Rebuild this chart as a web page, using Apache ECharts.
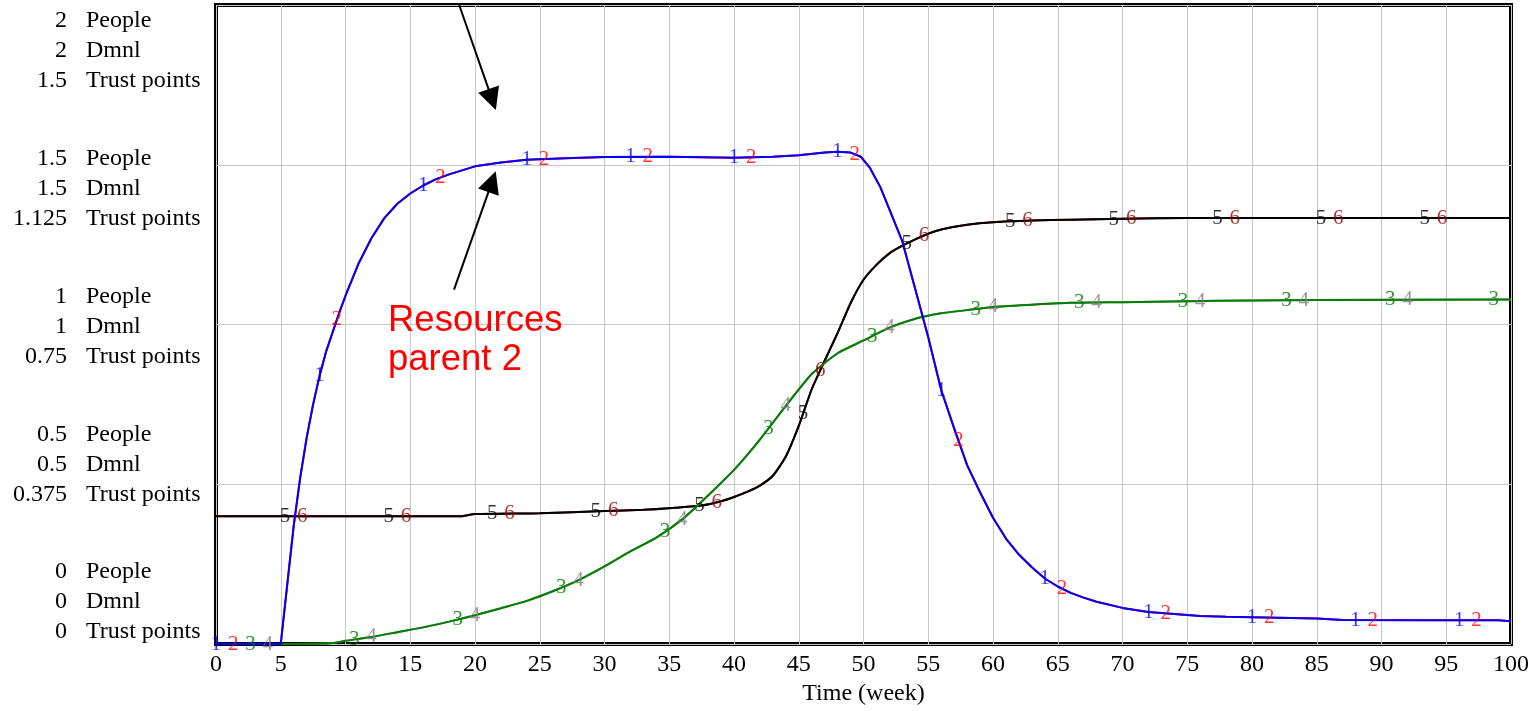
<!DOCTYPE html>
<html><head><meta charset="utf-8">
<script src="https://cdn.jsdelivr.net/npm/echarts@6/dist/echarts.min.js"></script>
<style>html,body{margin:0;padding:0;background:#fff}#c{width:1532px;height:711px}</style>
</head><body><div id="c"></div>
<script>
// ---- tick labels ----
const peopleTicks = ['0', '0.5', '1', '1.5', '2'];
const dmnlTicks = ['0', '0.5', '1', '1.5', '2'];
const trustTicks = ['0', '0.375', '0.75', '1.125', '1.5'];
const unitNames = ['People', 'Dmnl', 'Trust points'];

// ---- series values: [week, value] ----
// series 1 & 2 (People)
const resourcesParent1 = [[0,0],[5,0],[5.5,0.185],[6,0.37],[6.5,0.52],[7,0.645],[7.5,0.75],[8,0.84],[8.5,0.915],[9,0.975],[9.5,1.035],[10,1.09],[11,1.19],[12,1.27],[13,1.333],[14,1.378],[15,1.41],[16,1.435],[17,1.455],[18,1.47],[20,1.495],[22,1.507],[24,1.516],[27,1.52],[30,1.524],[35,1.525],[40,1.522],[43,1.525],[45,1.53],[47,1.538],[48,1.541],[49,1.538],[49.8,1.525],[50.5,1.49],[51.3,1.43],[52,1.36],[53,1.26],[54,1.11],[55,0.96],[56,0.795],[57,0.675],[58,0.56],[59,0.475],[60,0.395],[61,0.33],[62,0.28],[63,0.24],[64,0.205],[65,0.18],[66,0.16],[67,0.145],[68,0.132],[70,0.113],[72,0.1],[74,0.094],[76,0.088],[78,0.085],[80,0.084],[85,0.08],[87,0.075],[95,0.074],[99,0.074],[100,0.071]];
const resourcesParent2 = resourcesParent1.map(p => p.slice());
// series 3 & 4 (Dmnl)
const series3 = [[0,0],[5,0],[8.8,0.002],[10,0.01],[12,0.022],[14,0.037],[16,0.052],[18,0.07],[20,0.09],[22,0.112],[24,0.135],[26,0.165],[28,0.2],[30,0.243],[32,0.29],[34,0.333],[36,0.39],[38,0.465],[40,0.545],[42,0.64],[44,0.745],[46,0.845],[48,0.91],[50,0.95],[52,0.99],[54,1.018],[56,1.035],[58,1.045],[60,1.055],[63,1.062],[66,1.068],[70,1.07],[75,1.073],[80,1.075],[85,1.077],[100,1.078]];
const series4 = series3.map(p => p.slice());
// series 5 & 6 (Trust points)
const series5 = [[0,0.3],[19,0.3],[20,0.305],[25,0.307],[30,0.312],[33,0.315],[35.5,0.32],[37.5,0.325],[39,0.335],[40,0.345],[41,0.357],[42,0.372],[43,0.395],[44,0.44],[45,0.512],[46,0.598],[47,0.665],[48,0.73],[49,0.8],[50,0.855],[51,0.89],[52,0.917],[53,0.935],[54,0.95],[55,0.963],[56,0.973],[58,0.984],[60,0.99],[63,0.994],[66,0.996],[70,0.998],[75,1.0],[100,1.0]];
const series6 = series5.map(p => p.slice());

// marker label placement (weeks): each series starts at its own offset, every 8 weeks
const markerOffsets = [0, 4/3, 8/3, 4, 16/3, 20/3];
const markerStep = 8;

// annotation arrows in data coords (People scale): [start, end]
const arrowDown = [[18.78, 2.0], [21.33, 1.704]];
const arrowUp = [[18.38, 1.109], [21.32, 1.447]];
const annotationText = 'Resources\nparent 2';

const SERIF = 'Liberation Serif';
const defs = [
  {name: 'Resources parent 1', data: resourcesParent1, axis: 0, color: '#0000ff', labelColor: '#0000ff', smooth: false},
  {name: 'Resources parent 2', data: resourcesParent2, axis: 0, color: '#ff0000', labelColor: '#ff0000', smooth: false},
  {name: 'Series 3', data: series3, axis: 1, color: '#008000', labelColor: '#008000', smooth: 0.2},
  {name: 'Series 4', data: series4, axis: 1, color: '#808080', labelColor: '#808080', smooth: 0.2},
  {name: 'Series 5', data: series5, axis: 2, color: '#000000', labelColor: '#000000', smooth: 0.2},
  {name: 'Series 6', data: series6, axis: 2, color: '#800000', labelColor: '#9a0000', smooth: 0.2}
];

function interp(arr, t) {
  for (let i = 1; i < arr.length; i++) {
    if (t <= arr[i][0]) {
      const a = arr[i-1], b = arr[i];
      const f = (t - a[0]) / (b[0] - a[0]);
      return a[1] + f * (b[1] - a[1]);
    }
  }
  return arr[arr.length-1][1];
}

const lineSeries = [];
const labelSeries = [];
defs.forEach((d, i) => {
  const s = {
    type: 'line', name: d.name, xAxisIndex: 0, yAxisIndex: d.axis, data: d.data,
    symbol: 'none', showSymbol: false, smooth: d.smooth,
    lineStyle: {color: d.color, width: 2}, itemStyle: {color: d.color},
    silent: true, z: 2
  };
  if (i === 0) {
    s.markLine = {
      silent: true, symbol: ['none', 'triangle'], symbolSize: 22,
      lineStyle: {color: '#000', width: 2, type: 'solid'}, label: {show: false},
      emphasis: {disabled: true}, animation: false,
      data: [
        [{coord: arrowDown[0]}, {coord: arrowDown[1]}],
        [{coord: arrowUp[0]}, {coord: arrowUp[1]}]
      ]
    };
  }
  lineSeries.unshift(s);
  const pts = [];
  for (let t = markerOffsets[i]; t < 100 - 1e-6; t += markerStep) pts.push([t, interp(d.data, t)]);
  labelSeries.push({
    type: 'scatter', name: d.name + ' labels', xAxisIndex: 0, yAxisIndex: d.axis, data: pts,
    symbol: 'circle', symbolSize: 1, itemStyle: {color: 'rgba(0,0,0,0)'}, silent: true, z: 5,
    label: {show: true, position: 'inside', formatter: String(i + 1), color: d.labelColor,
            fontFamily: SERIF, fontSize: 21}
  });
});

const labelAxisBase = {
  type: 'value', min: 0, max: 2, interval: 0.5,
  axisLine: {show: false}, axisTick: {show: false}, splitLine: {show: false}
};

const chart = echarts.init(document.getElementById('c'), null, {renderer: 'canvas'});
chart.setOption({
  animation: false,
  backgroundColor: '#fff',
  grid: [
    {left: 216, right: 17, top: 5, height: 640, show: true, borderColor: '#000', borderWidth: 4, backgroundColor: 'rgba(0,0,0,0)'},
    {left: 67, width: 1, top: 51, height: 551, show: false},
    {left: 85, width: 1, top: 51, height: 551, show: false}
  ],
  xAxis: [
    {gridIndex: 0, type: 'value', min: 0, max: 100, interval: 5,
     axisLine: {show: false}, axisTick: {show: false},
     splitLine: {show: true, lineStyle: {color: '#c8c8c8', width: 1}},
     axisLabel: {fontFamily: SERIF, fontSize: 24, color: '#000', margin: 9},
     name: 'Time (week)', nameLocation: 'middle', nameGap: 38,
     nameTextStyle: {fontFamily: SERIF, fontSize: 24, color: '#000'}},
    {gridIndex: 1, type: 'value', min: 0, max: 1, show: false},
    {gridIndex: 2, type: 'value', min: 0, max: 1, show: false}
  ],
  yAxis: [
    {gridIndex: 0, type: 'value', min: 0, max: 2, interval: 0.5,
     axisLine: {show: false}, axisTick: {show: false}, axisLabel: {show: false},
     splitLine: {show: true, lineStyle: {color: '#c8c8c8', width: 1}}},
    {gridIndex: 0, type: 'value', min: 0, max: 2, show: false, splitLine: {show: false}},
    {gridIndex: 0, type: 'value', min: 0, max: 1.5, show: false, splitLine: {show: false}},
    Object.assign({}, labelAxisBase, {
      gridIndex: 1, position: 'left',
      axisLabel: {
        margin: 0, align: 'right', verticalAlign: 'middle', lineHeight: 30,
        fontFamily: SERIF, fontSize: 24, color: '#000',
        formatter: (v) => {
          const k = Math.round(v / 0.5);
          return peopleTicks[k] + '\n' + dmnlTicks[k] + '\n' + trustTicks[k];
        }
      }
    }),
    Object.assign({}, labelAxisBase, {
      gridIndex: 2, position: 'right',
      axisLabel: {
        margin: 0, align: 'left', verticalAlign: 'middle', lineHeight: 30,
        fontFamily: SERIF, fontSize: 24, color: '#000',
        formatter: () => unitNames.join('\n')
      }
    })
  ],
  graphic: [
    {type: 'text', left: 388, top: 301, silent: true, z: 10,
     style: {text: annotationText, fill: '#ff0000', fontFamily: 'Liberation Sans', fontSize: 36.5, lineHeight: 39}}
  ],
  series: lineSeries.concat(labelSeries)
});
</script></body></html>
